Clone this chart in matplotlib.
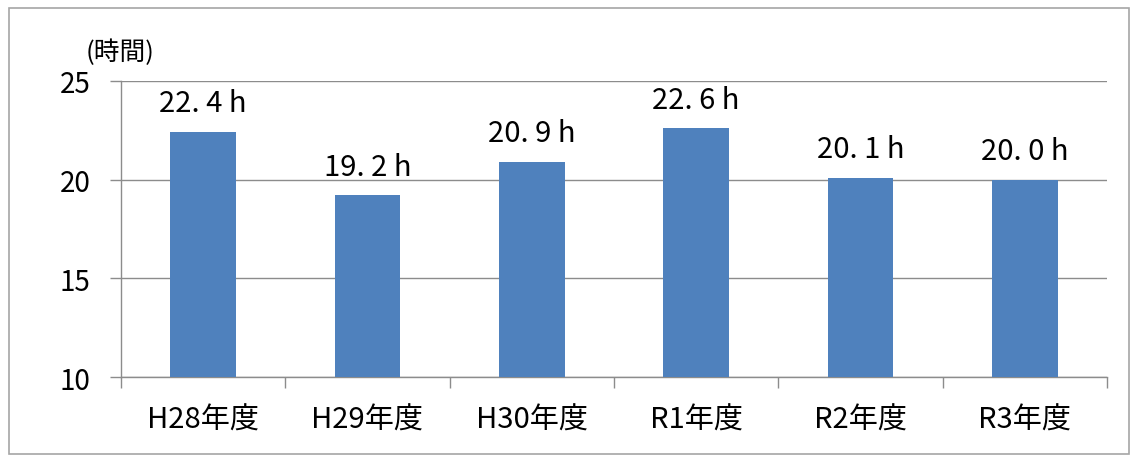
import matplotlib
matplotlib.use("Agg")
import matplotlib.pyplot as plt
from matplotlib.patches import Rectangle

plt.rcParams['font.family'] = ['Noto Sans CJK JP', 'DejaVu Sans']

categories = ["H28年度", "H29年度", "H30年度", "R1年度", "R2年度", "R3年度"]
hours = [22.4, 19.2, 20.9, 22.6, 20.1, 20.0]
y_ticks = [10, 15, 20, 25]
unit_label = "(時間)"

bar_color = "#4F81BD"
line_gray = "#8C8C8C"

fig = plt.figure(figsize=(11.38, 4.64), dpi=100)
ax = fig.add_axes([0.1063, 0.1853, 0.8665, 0.638])

x = list(range(len(categories)))
bars = ax.bar(x, hours, width=0.40, color=bar_color, zorder=3)

ax.set_ylim(10, 25)
ax.set_xlim(-0.5, len(categories) - 0.5)
ax.set_yticks(y_ticks)
ax.yaxis.grid(True, color=line_gray, linewidth=1.0, zorder=0)

for side in ("top", "right"):
    ax.spines[side].set_visible(False)
for side in ("left", "bottom"):
    ax.spines[side].set_color(line_gray)
    ax.spines[side].set_linewidth(1.0)

# category ticks sit on the boundaries between bars
ax.set_xticks([i - 0.5 for i in range(len(categories) + 1)])
ax.set_xticklabels([])
ax.set_xticks(x, minor=True)
ax.set_xticklabels(categories, minor=True, fontsize=21)
ax.tick_params(axis="x", which="major", length=8, color=line_gray, width=1.0)
ax.tick_params(axis="x", which="minor", length=0, pad=20)
ax.tick_params(axis="y", length=8, color=line_gray, width=1.0, labelsize=20, pad=14)

for xi, v in zip(x, hours):
    whole, frac = f"{v:.1f}".split(".")
    label = f"{whole}. {frac} h"
    ax.annotate(label, (xi, v), xytext=(0, 15), textcoords="offset points",
                ha="center", va="baseline", fontsize=21)

fig.text(86 / 1138, 1 - 53 / 464, unit_label, fontsize=18.5, ha="left", va="center")

fig.patches.append(Rectangle((9 / 1138, 9 / 464), 1120 / 1138, 446 / 464,
                             transform=fig.transFigure, fill=False,
                             edgecolor="#A6A6A6", linewidth=1.2))

fig.savefig("out.png", dpi=100)
